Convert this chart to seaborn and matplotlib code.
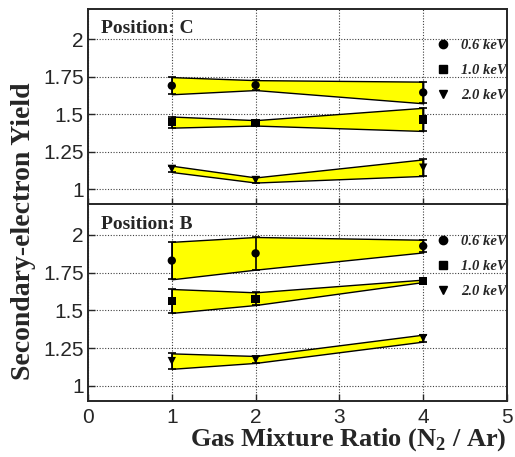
import numpy as np
import pandas as pd
import matplotlib
matplotlib.use("Agg")
import matplotlib.pyplot as plt
import seaborn as sns
from matplotlib.lines import Line2D
from matplotlib.ticker import FuncFormatter

# ---- data ----
ratios = [1, 2, 4]
energies = ["0.6 keV", "1.0 keV", "2.0 keV"]
markers = {"0.6 keV": "o", "1.0 keV": "s", "2.0 keV": "v"}

# Position C (top panel)
c_06 = [1.690, 1.694, 1.645]
c_06_err = [0.057, 0.033, 0.072]
c_10 = [1.448, 1.443, 1.466]
c_10_err = [0.037, 0.018, 0.077]
c_20 = [1.137, 1.063, 1.145]
c_20_err = [0.021, 0.017, 0.055]

# Position B (bottom panel)
b_06 = [1.829, 1.877, 1.925]
b_06_err = [0.124, 0.108, 0.042]
b_10 = [1.562, 1.577, 1.695]
b_10_err = [0.079, 0.042, 0.008]
b_20 = [1.164, 1.175, 1.316]
b_20_err = [0.051, 0.023, 0.023]

panels = [
    ("Position: C", [c_06, c_10, c_20], [c_06_err, c_10_err, c_20_err]),
    ("Position: B", [b_06, b_10, b_20], [b_06_err, b_10_err, b_20_err]),
]

sns.set_style("ticks")
plt.rcParams["font.family"] = ["Liberation Sans", "DejaVu Sans"]
serif = ["Liberation Serif", "DejaVu Serif"]

W, H = 515, 457
fig = plt.figure(figsize=(W / 100, H / 100), dpi=100)
left, right = 88 / W, 507 / W
ys = [(9, 204.5), (204.5, 401)]
axes = []
for (t, b) in ys:
    ax = fig.add_axes([left, 1 - b / H, right - left, (b - t) / H])
    axes.append(ax)

for ax, (title, vals, errs) in zip(axes, panels):
    rows = []
    for e, v, er in zip(energies, vals, errs):
        for x, y, s in zip(ratios, v, er):
            rows.append({"ratio": x, "yield": y, "err": s, "energy": e})
    df = pd.DataFrame(rows)
    for e in energies:
        d = df[df.energy == e]
        ax.fill_between(d["ratio"], d["yield"] - d["err"], d["yield"] + d["err"],
                        facecolor="#ffff00", edgecolor="black", linewidth=1.0, zorder=2)
        ax.errorbar(d["ratio"], d["yield"], yerr=d["err"], fmt="none", ecolor="black",
                    elinewidth=1.2, capsize=3, capthick=1.2, zorder=3)
    sns.scatterplot(data=df, x="ratio", y="yield", style="energy", markers=markers,
                    color="black", s=36, edgecolor="black", linewidth=0, legend=False,
                    ax=ax, zorder=4)
    ax.set_xlim(0, 5)
    ax.set_ylim(0.9, 2.2)
    ax.set_xticks([0, 1, 2, 3, 4, 5])
    ax.set_yticks([1, 1.25, 1.5, 1.75, 2])
    ax.yaxis.set_major_formatter(FuncFormatter(lambda v, p: f"{v:g}"))
    ax.grid(True, linestyle=(0, (1, 1.5)), color="black", linewidth=0.8, alpha=0.75)
    ax.set_axisbelow(True)
    ax.tick_params(direction="in", length=5, width=1, labelsize=15, pad=3,
                   top=False, right=False)
    ax.tick_params(axis="x", pad=5)
    for sp in ax.spines.values():
        sp.set_linewidth(1.4)
        sp.set_visible(True)
    ax.set_xlabel("")
    ax.set_ylabel("")
    ax.text(13 / 419, 0.876, title, transform=ax.transAxes, family=serif,
            fontweight="bold", fontsize=14, ha="left", va="baseline")
    handles = [Line2D([], [], marker=markers[e], color="black", linestyle="none",
                      markersize=6) for e in energies]
    ax.legend(handles, energies, loc="upper right", bbox_to_anchor=(1.0, 0.847),
              frameon=False, prop={"family": serif, "weight": "bold", "style": "italic",
                                   "size": 10.5},
              labelspacing=0.82, handletextpad=0.63, handlelength=1.2,
              borderaxespad=0, borderpad=0)

axes[0].tick_params(labelbottom=False)

fig.text(24 / W, 1 - 231 / H, "Secondary-electron Yield", rotation=90,
         family=serif, fontweight="bold", fontsize=20, ha="center", va="center")
fig.text(507 / W, 1 - 446 / H, "Gas Mixture Ratio (N$_\\mathregular{2}$ / Ar)",
         family=serif, fontweight="bold", fontsize=19, ha="right", va="baseline")

fig.savefig("out.png", dpi=100)
